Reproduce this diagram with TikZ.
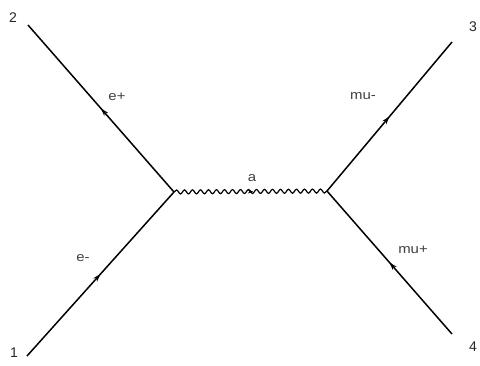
\documentclass[tikz,border=0pt]{standalone}
\usepackage{fontspec}
\setmainfont{Liberation Sans}
\usetikzlibrary{decorations.pathmorphing,decorations.markings,arrows.meta}
\begin{document}
\begin{tikzpicture}[x=1pt,y=-1pt,
  fermion/.style={line width=1.5pt,
    postaction={decorate,decoration={markings,
      mark=at position 0.5 with {\arrow{Stealth[length=8pt,width=5pt]}}}}},
  photon/.style={line width=1.2pt,decorate,
    decoration={snake,amplitude=2pt,segment length=8pt}},
  lbl/.style={font=\fontsize{13}{14}\selectfont,inner sep=0pt,text=black!75,xscale=1.15},
  num/.style={font=\fontsize{14}{16}\selectfont,inner sep=0pt,text=black!85}]
\useasboundingbox (0,0) rectangle (480,365);
\coordinate (p1) at (27,356);
\coordinate (p2) at (28,25);
\coordinate (p3) at (452,42);
\coordinate (p4) at (452,334);
\coordinate (v1) at (174,192);
\coordinate (v2) at (327,191);
\draw[fermion] (p1) -- (v1);
\draw[fermion] (v1) -- (p2);
\draw[fermion] (v2) -- (p3);
\draw[fermion] (p4) -- (v2);
\draw[photon] (v1) -- (v2);
\path (v1) -- (v2) node[pos=0.5,sloped,inner sep=0pt] (pa)
  {\tikz\draw[-{Stealth[length=5pt,width=4pt]}] (0,0) -- (1pt,0);};
\node[num] (n1) at (14,353) {1};
\node[num] (n2) at (13,18) {2};
\node[num] (n3) at (473,27) {3};
\node[num] (n4) at (473,347) {4};
\node[lbl] (lep) at (117,97) {e+};
\node[lbl] (lem) at (83,258) {e-};
\node[lbl] (lmm) at (363,96) {mu-};
\node[lbl] (lmp) at (413,250) {mu+};
\node[lbl] (la) at (252,178) {a};
\end{tikzpicture}
\end{document}
